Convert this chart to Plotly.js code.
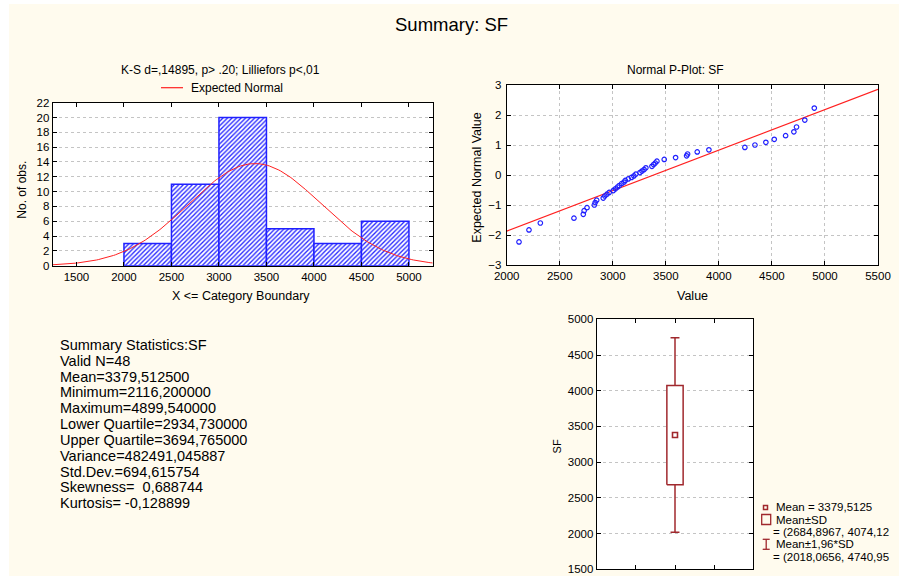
<!DOCTYPE html>
<html>
<head>
<meta charset="utf-8">
<script src="https://cdn.plot.ly/plotly-3.0.1.min.js"></script>
<style>html,body{margin:0;padding:0;background:#fff;}#chart{width:899px;height:576px;}</style>
</head>
<body>
<div id="chart"></div>
<script>
// ---------- data ----------
const binLower = [2000, 2500, 3000, 3500, 4000, 4500];
const binCounts = [3, 11, 20, 5, 3, 6];
const binWidth = 500;
const nObs = 48;
const meanSF = 3379.5125;
const sdSF = 694.615754;

const sfValues = [2116, 2210, 2317, 2634, 2722, 2730, 2757, 2826, 2834, 2848, 2910, 2925, 2945, 2966,
  3005, 3025, 3045, 3061, 3083, 3105, 3118, 3146, 3177, 3199, 3218, 3256, 3275, 3295, 3312, 3369,
  3385, 3400, 3416, 3485, 3592, 3696, 3705, 3796, 3906, 4245, 4340, 4443, 4522, 4629, 4707, 4732, 4810, 4899.5];
const normalScores = [-2.23, -1.83, -1.60, -1.44, -1.31, -1.19, -1.09, -1.00, -0.92, -0.84, -0.77, -0.70, -0.64, -0.58,
  -0.52, -0.46, -0.40, -0.35, -0.29, -0.24, -0.18, -0.13, -0.08, -0.03, 0.03, 0.08, 0.13, 0.18, 0.24, 0.29,
  0.35, 0.40, 0.46, 0.52, 0.58, 0.64, 0.70, 0.77, 0.84, 0.92, 1.00, 1.09, 1.19, 1.31, 1.44, 1.60, 1.83, 2.23];
// fitted line of the P-plot (as drawn)
const pLineCenter = 3385;
const pLineScale = 740;
const pLineRange = [2000, 5500];

const boxMean = 3379.5125;
const boxSDLow = 2684.8967, boxSDHigh = 4074.1283;
const boxCILow = 2018.0656, boxCIHigh = 4740.9594;

const statLines = ["Summary Statistics:SF", "Valid N=48", "Mean=3379,512500", "Minimum=2116,200000",
  "Maximum=4899,540000", "Lower Quartile=2934,730000", "Upper Quartile=3694,765000",
  "Variance=482491,045887", "Std.Dev.=694,615754", "Skewness=  0,688744", "Kurtosis= -0,128899"];
const boxLegend = ["Mean = 3379,5125", "Mean±SD", "= (2684,8967, 4074,12", "Mean±1,96*SD", "= (2018,0656, 4740,95"];

// ---------- helpers ----------
const W = 899, H = 576;
const px = v => v / W;
const py = v => 1 - v / H;
const FONT = "Liberation Sans, Arial, sans-serif";
const RED = "#ff2020";
const BLUE = "#2020ff";
const DRED = "#a0282d";

// expected normal curve
const curveX = [], curveY = [];
for (let x = 1250; x <= 5250; x += 20) {
  const z = (x - meanSF) / sdSF;
  curveX.push(x);
  curveY.push(nObs * binWidth * Math.exp(-0.5 * z * z) / (sdSF * Math.sqrt(2 * Math.PI)));
}

const traces = [
  {
    type: "bar", x: binLower.map(b => b + binWidth / 2), y: binCounts, width: binWidth,
    xaxis: "x", yaxis: "y",
    marker: { color: "#ffffff", line: { color: BLUE, width: 1.5 },
      pattern: { shape: "/", fgcolor: "#2828ff", bgcolor: "#ffffff", size: 3.2, solidity: 0.42 } },
    hoverinfo: "skip", showlegend: false
  },
  {
    type: "scatter", mode: "lines", x: curveX, y: curveY, xaxis: "x", yaxis: "y",
    line: { color: RED, width: 1 }, showlegend: false, hoverinfo: "skip"
  },
  {
    type: "scatter", mode: "lines", x: pLineRange, y: pLineRange.map(v => (v - pLineCenter) / pLineScale),
    xaxis: "x2", yaxis: "y2", line: { color: RED, width: 1.2 }, showlegend: false, hoverinfo: "skip"
  },
  {
    type: "scatter", mode: "markers", x: sfValues, y: normalScores, xaxis: "x2", yaxis: "y2",
    marker: { symbol: "circle-open", size: 4.5, color: BLUE, line: { width: 1.2, color: BLUE } },
    showlegend: false, hoverinfo: "skip"
  }
];

// box plot pieces (computed from the box values)
const bw = 0.104, cw = 0.057;
traces.push({
  type: "scatter", mode: "lines", xaxis: "x3", yaxis: "y3",
  x: [0, 0, null, 0, 0, null, -cw, cw, null, -cw, cw],
  y: [boxSDHigh, boxCIHigh, null, boxSDLow, boxCILow, null, boxCIHigh, boxCIHigh, null, boxCILow, boxCILow],
  line: { color: DRED, width: 1.5 }, showlegend: false, hoverinfo: "skip"
});
traces.push({
  type: "scatter", mode: "lines", xaxis: "x3", yaxis: "y3",
  x: [-bw, bw, bw, -bw, -bw], y: [boxSDLow, boxSDLow, boxSDHigh, boxSDHigh, boxSDLow],
  fill: "toself", fillcolor: "#ffffff",
  line: { color: DRED, width: 1.5 }, showlegend: false, hoverinfo: "skip"
});
traces.push({
  type: "scatter", mode: "markers", xaxis: "x3", yaxis: "y3", x: [0], y: [boxMean],
  marker: { symbol: "square-open", size: 5, color: DRED, line: { width: 1.6, color: DRED } },
  showlegend: false, hoverinfo: "skip"
});

const axBase = {
  showline: true, linecolor: "#000", linewidth: 1, mirror: "ticks",
  ticks: "inside", ticklen: 4, tickcolor: "#000", zeroline: false,
  tickfont: { family: FONT, size: 11.5, color: "#000" },
  ticklabeloverflow: "allow",
  gridcolor: "#c4c4c4", griddash: "dot", gridwidth: 1
};

const layout = {
  width: W, height: H,
  margin: { l: 0, r: 0, t: 0, b: 0 },
  paper_bgcolor: "#fffbee", plot_bgcolor: "#ffffff",
  showlegend: false,
  font: { family: FONT, color: "#000" },
  xaxis: Object.assign({}, axBase, { domain: [px(52.7), px(432.7)], range: [1250, 5250], tick0: 1500, dtick: 500, showgrid: false, anchor: "y" }),
  yaxis: Object.assign({}, axBase, { domain: [py(265.7), py(102.7)], range: [0, 22], dtick: 2, showgrid: true, anchor: "x" }),
  xaxis2: Object.assign({}, axBase, { domain: [px(506.7), px(878)], range: [2000, 5500], dtick: 500, showgrid: true, anchor: "y2" }),
  yaxis2: Object.assign({}, axBase, { domain: [py(265), py(85)], range: [-3, 3], dtick: 1, showgrid: true, anchor: "x2", ticklabelstandoff: 2 }),
  xaxis3: Object.assign({}, axBase, { domain: [px(596.7), px(753.3)], range: [-1, 1], tickvals: [-0.5, 0, 0.5], showticklabels: false, showgrid: false, anchor: "y3" }),
  yaxis3: Object.assign({}, axBase, { domain: [py(569.3), py(319.3)], range: [1500, 5000], dtick: 500, showgrid: true, anchor: "x3" }),
  shapes: [
    { type: "rect", xref: "paper", yref: "paper", x0: 0, x1: px(9), y0: 0, y1: 1, fillcolor: "#fff", line: { width: 0 }, layer: "above" },
    { type: "rect", xref: "paper", yref: "paper", x0: 0, x1: 1, y0: py(4), y1: 1, fillcolor: "#fff", line: { width: 0 }, layer: "above" },
    // histogram legend line
    { type: "line", xref: "paper", yref: "paper", x0: px(161), x1: px(183), y0: py(87.7), y1: py(87.7), line: { color: RED, width: 1.2 } },
    // box legend symbols
    { type: "rect", xref: "paper", yref: "paper", x0: px(763.5), x1: px(767.5), y0: py(509.5), y1: py(505.5), line: { color: DRED, width: 1.5 } },
    { type: "rect", xref: "paper", yref: "paper", x0: px(761.7), x1: px(770.7), y0: py(524.5), y1: py(514.5), line: { color: DRED, width: 1.3 } },
    { type: "line", xref: "paper", yref: "paper", x0: px(766.2), x1: px(766.2), y0: py(549.3), y1: py(539.3), line: { color: DRED, width: 1.3 } },
    { type: "line", xref: "paper", yref: "paper", x0: px(762.7), x1: px(769.7), y0: py(539.3), y1: py(539.3), line: { color: DRED, width: 1.3 } },
    { type: "line", xref: "paper", yref: "paper", x0: px(762.7), x1: px(769.7), y0: py(549.3), y1: py(549.3), line: { color: DRED, width: 1.3 } }
  ],
  annotations: []
};

function txt(text, x, y, size, opts) {
  layout.annotations.push(Object.assign({
    text: text, xref: "paper", yref: "paper", x: px(x), y: py(y),
    showarrow: false, xanchor: "center", yanchor: "middle", borderpad: 0,
    font: { family: FONT, size: size, color: "#000" }
  }, opts || {}));
}

txt("Summary: SF", 451, 24.7, 18.5);
txt("K-S d=,14895, p> .20; Lilliefors p<,01", 220, 70, 12);
txt("Expected Normal", 190, 87.7, 12, { xanchor: "left" });
txt("Normal P-Plot: SF", 675.5, 69.5, 12);
txt("No. of obs.", 21.7, 190, 12, { textangle: -90 });
txt("X <= Category Boundary", 240.7, 296, 12.5);
txt("Expected Normal Value", 476.7, 178, 12.5, { textangle: -90 });
txt("Value", 692, 296, 12.5);
txt("SF", 556.7, 446.7, 11, { textangle: -90 });

statLines.forEach((s, i) => txt(s, 59, 345 + i * 15.83, 14.5, { xanchor: "left" }));

const legY = [507.3, 520, 531.7, 544.3, 556.7];
const legX = [775, 775, 771.7, 775, 771.7];
boxLegend.forEach((s, i) => txt(s, legX[i], legY[i], 11.5, { xanchor: "left" }));

Plotly.newPlot("chart", traces, layout, { staticPlot: true, displayModeBar: false });
</script>
</body>
</html>
